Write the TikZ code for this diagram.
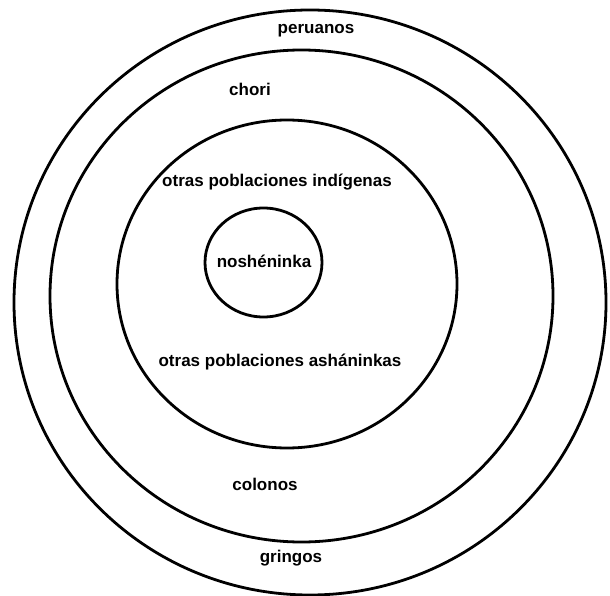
\documentclass[tikz,border=0pt]{standalone}
\usepackage{fontspec}
\setmainfont{Liberation Sans}

\begin{document}

\begin{tikzpicture}[x = 1pt, y = -1pt,
	ring/.style = {line width = 2.8pt},
	tag/.style = {font = \fontsize{17}{20}\selectfont\bfseries, inner sep = 0pt}]
	
	\useasboundingbox (0, 0) rectangle (610, 596);
	
	% Nested circles
	
	\begin{scope}[ring]
	
		\draw (310, 302.5) ellipse [x radius = 296pt, y radius = 292.5pt];
		\draw (301.5, 296) ellipse [x radius = 251.5pt, y radius = 246pt];
		\draw (287, 284) ellipse [x radius = 170pt, y radius = 164pt];
		\draw (263.5, 262.5) ellipse [x radius = 58.5pt, y radius = 54.5pt];
		
	\end{scope}
	
	% Group names
	
	\node [tag] (peruanos) at (316, 31) {peruanos};
	\node [tag] (chori) at (250, 89) {chori};
	\node [tag] (indigenas) at (277, 182) {otras poblaciones indígenas};
	\node [tag] (nosheninka) at (264, 261) {noshéninka};
	\node [tag] (ashaninkas) at (280, 362) {otras poblaciones asháninkas};
	\node [tag] (colonos) at (265, 484) {colonos};
	\node [tag] (gringos) at (291, 558) {gringos};

\end{tikzpicture}

\end{document}
